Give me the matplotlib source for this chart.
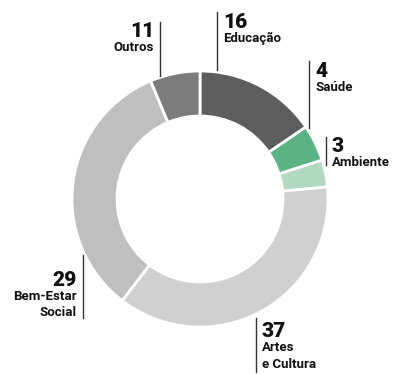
import matplotlib.pyplot as plt

# slice shares as drawn in the ring (clockwise from 12 o'clock)
names = ["Educação", "Saúde", "Ambiente", "Artes\ne Cultura", "Bem-Estar\nSocial", "Outros"]
shares = [15.5, 4.6, 3.4, 36.9, 33.3, 6.3]
numbers = ["16", "4", "3", "37", "29", "11"]
colors = ["#5c5d5c", "#5bb384", "#b3d8c0", "#d0d1cf", "#bfc0be", "#7b7c7b"]

# label anchors in pixels: (x of rule, rule top, rule bottom, number baseline, side)
anchors = [
    (217, 12, 70, 28, "left"),
    (309, 61, 128, 77, "left"),
    (326, 137, 165, 152, "left"),
    (256, 318, 372, 337, "left"),
    (83, 255, 318, 286, "right"),
    (160, 22, 76, 37, "right"),
]

W, H = 395, 374
fig = plt.figure(figsize=(W / 100, H / 100), dpi=100)
ax = fig.add_axes([0, 0, 1, 1])

ax.pie(shares, colors=colors, center=(200, 199), radius=128,
       startangle=-90, counterclock=True,
       wedgeprops=dict(width=45, edgecolor="white", linewidth=2))
ax.set_xlim(0, W)
ax.set_ylim(H, 0)
ax.set_aspect("equal")
ax.axis("off")

font = "Roboto"
for name, num, (x, y0, y1, base, side) in zip(names, numbers, anchors):
    ax.plot([x, x], [y0, y1], color="#333333", lw=1)
    tx = x + 6 if side == "left" else x - 6
    ax.text(tx, base, num, ha=side, va="baseline", fontsize=15,
            fontweight="black", family=font, color="#111111")
    for i, line in enumerate(name.split("\n")):
        ax.text(tx, base + 14 + 16.5 * i, line, ha=side, va="baseline",
                fontsize=9.5, fontweight="bold", family=font, color="#111111")

fig.savefig("out.png", dpi=100)
